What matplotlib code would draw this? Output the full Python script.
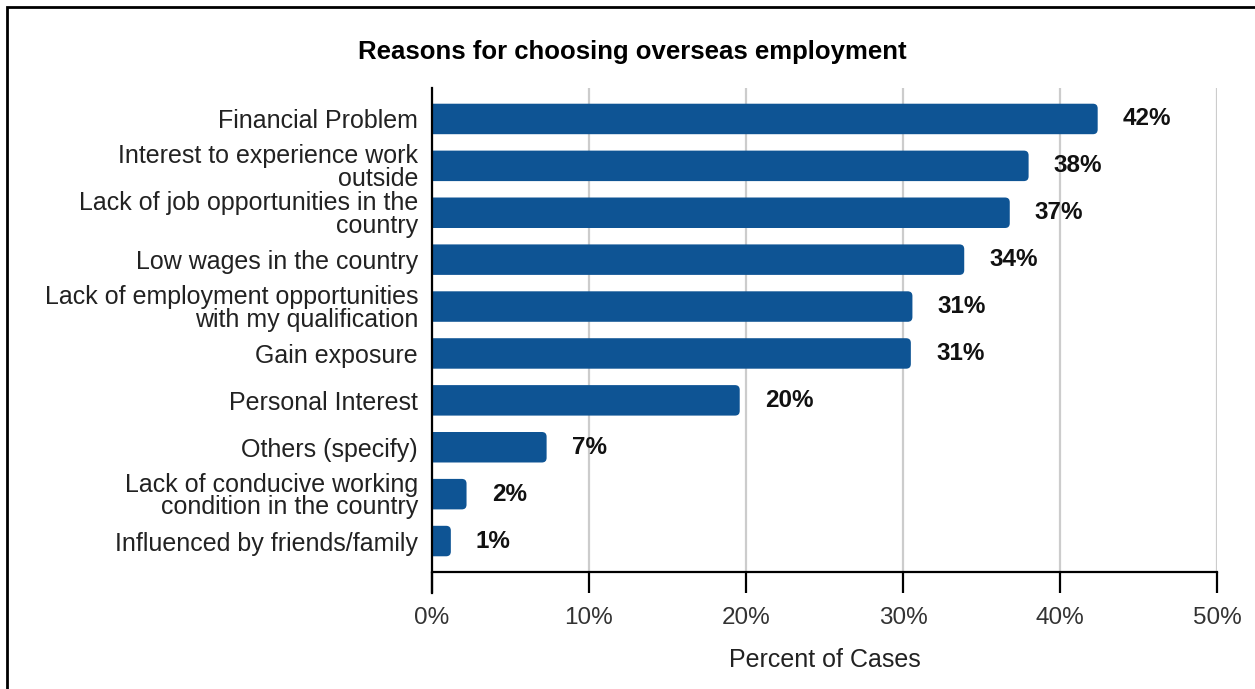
import matplotlib.pyplot as plt
from matplotlib.patches import FancyBboxPatch, Rectangle

plt.rcParams['font.family'] = ['Liberation Sans', 'DejaVu Sans']

reasons = ["Financial Problem",
           "Interest to experience work\noutside",
           "Lack of job opportunities in the\ncountry",
           "Low wages in the country",
           "Lack of employment opportunities\nwith my qualification",
           "Gain exposure",
           "Personal Interest",
           "Others (specify)",
           "Lack of conducive working\ncondition in the country",
           "Influenced by friends/family"]
percent = [42.4, 38.0, 36.8, 33.9, 30.6, 30.5, 19.6, 7.3, 2.2, 1.2]
shown = ["42%", "38%", "37%", "34%", "31%", "31%", "20%", "7%", "2%", "1%"]
xticks = [0, 10, 20, 30, 40, 50]

bar_color = "#0E5494"

fig = plt.figure(figsize=(12.55, 6.89), dpi=100)
ax = fig.add_axes([432/1255, 1 - 572/689, (1217 - 432)/1255, (572 - 88)/689])

bar_h = 0.65
for i, v in enumerate(percent):
    box = FancyBboxPatch((-0.6, i - bar_h/2), v + 0.6, bar_h,
                         boxstyle="round,pad=0,rounding_size=0.3",
                         mutation_aspect=0.335,
                         facecolor=bar_color, edgecolor="none", zorder=3)
    ax.add_patch(box)
    ax.text(v + 1.6, i, shown[i], ha="left", va="center",
            fontsize=17.5, fontweight="bold", color="#111111", zorder=4)

ax.set_xlim(0, 50)
ax.set_ylim(9.66, -0.66)
ax.set_yticks(range(len(reasons)))
ax.set_yticklabels(reasons, fontsize=18, linespacing=0.92, color="#222222")
ax.tick_params(axis="y", length=0, pad=10)
ax.set_xticks(xticks)
ax.set_xticklabels([f"{t}%" for t in xticks], fontsize=17.5, color="#333333")
ax.tick_params(axis="x", length=15, width=1.6, pad=10, color="black")
ax.grid(axis="x", color="#cccccc", linewidth=1.6, zorder=0)
ax.set_axisbelow(True)
for s in ["top", "right", "left"]:
    ax.spines[s].set_visible(False)
ax.spines["bottom"].set_linewidth(1.6)

ax.set_xlabel("Percent of Cases", fontsize=18, color="#222222", labelpad=14)
fig.text(0.504, 1 - 52/689, "Reasons for choosing overseas employment",
         ha="center", va="center", fontsize=18.5, fontweight="bold")

# left spine drawn down to tick end
ax.plot([0, 0], [-0.66, 10.1], color="black", lw=1.6, clip_on=False, zorder=5)

fig.patches.append(Rectangle((7/1255, -0.1), 1.2, 1 - 7/689 + 0.1,
                             transform=fig.transFigure, fill=False,
                             edgecolor="black", linewidth=2))

fig.savefig("out.png", dpi=100)
